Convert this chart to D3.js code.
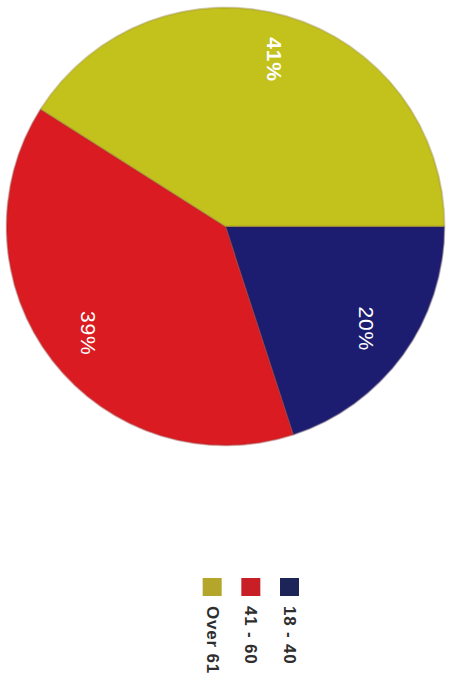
<!DOCTYPE html>
<html>
<head>
<meta charset="utf-8">
<script src="https://cdn.jsdelivr.net/npm/d3@7"></script>
<style>
  html, body { margin: 0; padding: 0; background: #ffffff; }
  svg { display: block; }
  text { font-family: Arial, "Liberation Sans", Helvetica, sans-serif; }
</style>
</head>
<body>
<svg id="chart" width="450" height="673"></svg>
<script>
// Age groups and their shares (percent)
const categories = ["18 - 40", "41 - 60", "Over 61"];
const shares = [20, 39, 41];
const sliceColors = ["#1f1f70", "#da1a20", "#c3c11b"];
const swatchColors = ["#1d2558", "#c81f27", "#b3a62b"];
const labelWeights = ["normal", "normal", "bold"];

const svg = d3.select("#chart");

// The whole chart is laid out landscape and turned a quarter turn clockwise.
const g = svg.append("g").attr("transform", "translate(450,0) rotate(90)");

const cx = 226.5, cy = 224.5, radius = 219;

const data = categories.map((c, i) => ({ cat: c, value: shares[i], i }));

const pie = d3.pie().sort(null).value(d => d.value);
const arcs = pie(data);

const arc = d3.arc().innerRadius(0).outerRadius(radius);
const labelArc = d3.arc().innerRadius(174).outerRadius(174);

const defs = svg.append("defs");
const f = defs.append("filter").attr("id", "soft").attr("x", "-10%").attr("y", "-10%").attr("width", "120%").attr("height", "120%");
f.append("feGaussianBlur").attr("stdDeviation", 0.6);

const pieG = g.append("g").attr("transform", `translate(${cx},${cy})`);

pieG.selectAll("path.slice")
  .data(arcs)
  .enter().append("path")
  .attr("class", "slice")
  .attr("d", arc)
  .attr("fill", d => sliceColors[d.data.i])
  .attr("stroke", "rgba(60,20,10,0.45)")
  .attr("stroke-width", 0.8)
  .attr("filter", "url(#soft)");

pieG.selectAll("text.pct")
  .data(arcs)
  .enter().append("text")
  .attr("class", "pct")
  .attr("transform", d => `translate(${labelArc.centroid(d)})`)
  .attr("text-anchor", "middle")
  .attr("dominant-baseline", "central")
  .attr("font-size", 21)
  .attr("letter-spacing", 0.8)
  .attr("font-weight", d => labelWeights[d.data.i])
  .attr("fill", "#ffffff")
  .text(d => d.data.value + "%");

// Legend
const legendY = d3.scaleBand().domain(categories).range([151, 267]).paddingInner(0);
const legend = g.append("g").attr("class", "legend");

const items = legend.selectAll("g.item")
  .data(data)
  .enter().append("g")
  .attr("class", "item")
  .attr("transform", d => `translate(578,${legendY(d.cat)})`);

items.append("rect")
  .attr("x", 0).attr("y", 0)
  .attr("width", 18).attr("height", 19)
  .attr("fill", d => swatchColors[d.i]);

items.append("text")
  .attr("x", 28)
  .attr("y", 9.5)
  .attr("dominant-baseline", "central")
  .attr("font-size", 17)
  .attr("letter-spacing", 0.8)
  .attr("font-weight", "bold")
  .attr("fill", "#2e2e2e")
  .text(d => d.cat);
</script>
</body>
</html>
